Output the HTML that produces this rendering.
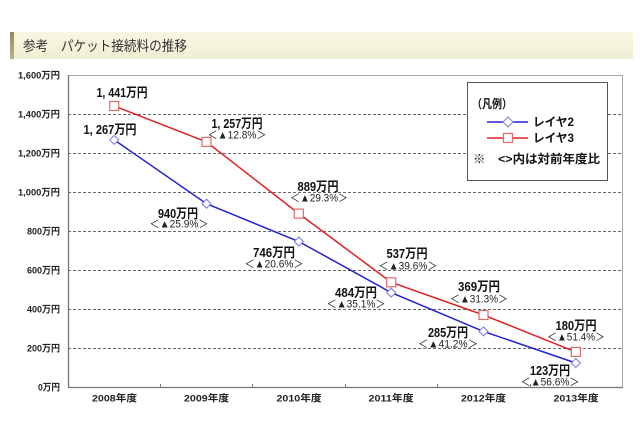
<!DOCTYPE html>
<html><head><meta charset="utf-8"><style>
html,body{margin:0;padding:0;background:#fff;}
svg{display:block;}
text{font-family:"Liberation Sans","Noto Sans CJK JP",sans-serif;}
</style></head><body>
<svg width="640" height="426" viewBox="0 0 640 426" xmlns="http://www.w3.org/2000/svg">
<defs>
<linearGradient id="tb" x1="0" y1="0" x2="0" y2="1">
<stop offset="0" stop-color="#f7f6e2"/><stop offset="0.6" stop-color="#f4f2da"/><stop offset="1" stop-color="#efedd3"/>
</linearGradient>
<linearGradient id="st" x1="0" y1="0" x2="0" y2="1">
<stop offset="0" stop-color="#8e8a5e"/><stop offset="1" stop-color="#b8b48e"/>
</linearGradient>
</defs>
<rect x="0" y="0" width="640" height="426" fill="#fff"/>
<!-- title bar -->
<rect x="10" y="32" width="623" height="27" fill="url(#tb)"/>
<rect x="10" y="32" width="4" height="27" fill="url(#st)"/>
<text x="23" y="51" font-size="14" fill="#333" textLength="164" lengthAdjust="spacingAndGlyphs">参考　パケット接続料の推移</text>

<!-- gridlines -->
<g stroke="#666" stroke-width="1" stroke-dasharray="3,2">
<line x1="68" y1="348.5" x2="622" y2="348.5"/>
<line x1="68" y1="309.5" x2="622" y2="309.5"/>
<line x1="68" y1="270.5" x2="622" y2="270.5"/>
<line x1="68" y1="231.5" x2="622" y2="231.5"/>
<line x1="68" y1="192.5" x2="622" y2="192.5"/>
<line x1="68" y1="153.5" x2="622" y2="153.5"/>
<line x1="68" y1="114.5" x2="622" y2="114.5"/>
</g>
<!-- plot border -->
<line x1="68" y1="75.5" x2="623" y2="75.5" stroke="#aaa"/>
<line x1="622.5" y1="75" x2="622.5" y2="387" stroke="#aaa"/>
<line x1="68.5" y1="75" x2="68.5" y2="388" stroke="#777" stroke-width="1.3"/>
<line x1="68" y1="387.5" x2="623" y2="387.5" stroke="#777" stroke-width="1.3"/>
<g stroke="#777">
<line x1="160.5" y1="384" x2="160.5" y2="387"/>
<line x1="252.5" y1="384" x2="252.5" y2="387"/>
<line x1="345.5" y1="384" x2="345.5" y2="387"/>
<line x1="437.5" y1="384" x2="437.5" y2="387"/>
<line x1="530.5" y1="384" x2="530.5" y2="387"/>
</g>

<!-- y labels -->
<g font-size="9.5" font-weight="bold" fill="#222" text-anchor="end">
<text x="60" y="78.5" textLength="42" lengthAdjust="spacingAndGlyphs">1,600万円</text>
<text x="60" y="117.5" textLength="42" lengthAdjust="spacingAndGlyphs">1,400万円</text>
<text x="60" y="156.5" textLength="42" lengthAdjust="spacingAndGlyphs">1,200万円</text>
<text x="60" y="195.5" textLength="42" lengthAdjust="spacingAndGlyphs">1,000万円</text>
<text x="60" y="234.5" textLength="33" lengthAdjust="spacingAndGlyphs">800万円</text>
<text x="60" y="273.5" textLength="33" lengthAdjust="spacingAndGlyphs">600万円</text>
<text x="60" y="312.5" textLength="33" lengthAdjust="spacingAndGlyphs">400万円</text>
<text x="60" y="351.5" textLength="33" lengthAdjust="spacingAndGlyphs">200万円</text>
<text x="60" y="390.5" textLength="22" lengthAdjust="spacingAndGlyphs">0万円</text>
</g>
<!-- x labels -->
<g font-size="9.5" font-weight="bold" fill="#222" text-anchor="middle">
<text x="114.5" y="401.5" textLength="45" lengthAdjust="spacingAndGlyphs">2008年度</text>
<text x="206.5" y="401.5" textLength="45" lengthAdjust="spacingAndGlyphs">2009年度</text>
<text x="299" y="401.5" textLength="45" lengthAdjust="spacingAndGlyphs">2010年度</text>
<text x="391" y="401.5" textLength="45" lengthAdjust="spacingAndGlyphs">2011年度</text>
<text x="483.5" y="401.5" textLength="45" lengthAdjust="spacingAndGlyphs">2012年度</text>
<text x="576" y="401.5" textLength="45" lengthAdjust="spacingAndGlyphs">2013年度</text>
</g>

<!-- series -->
<polyline fill="none" stroke="#2222cc" stroke-width="1.5" points="114.2,139.9 206.5,203.7 298.8,241.5 391.2,292.6 483.5,331.4 575.8,363"/>
<polyline fill="none" stroke="#e02222" stroke-width="1.5" points="114.2,106 206.5,141.9 298.8,213.6 391.2,282.3 483.5,315 575.8,351.9"/>
<g fill="#fff" stroke="#e06a6a" stroke-width="1.2">
<rect x="109.7" y="101.5" width="9" height="9"/>
<rect x="202" y="137.4" width="9" height="9"/>
<rect x="294.3" y="209.1" width="9" height="9"/>
<rect x="386.7" y="277.8" width="9" height="9"/>
<rect x="479" y="310.5" width="9" height="9"/>
<rect x="571.3" y="347.4" width="9" height="9"/>
</g>
<g fill="#fff" stroke="#8080e0" stroke-width="1.1">
<polygon points="114.2,135.4 118.7,139.9 114.2,144.4 109.7,139.9"/>
<polygon points="206.5,199.2 211,203.7 206.5,208.2 202,203.7"/>
<polygon points="298.8,237 303.3,241.5 298.8,246 294.3,241.5"/>
<polygon points="391.2,288.1 395.7,292.6 391.2,297.1 386.7,292.6"/>
<polygon points="483.5,326.9 488,331.4 483.5,335.9 479,331.4"/>
<polygon points="575.8,358.5 580.3,363 575.8,367.5 571.3,363"/>
</g>

<!-- data labels -->
<g font-size="13" font-weight="bold" fill="#111" text-anchor="middle">
<text x="122" y="97" textLength="51" lengthAdjust="spacingAndGlyphs">1, 441万円</text>
<text x="110" y="134" textLength="53" lengthAdjust="spacingAndGlyphs">1, 267万円</text>
<text x="178" y="218" textLength="40" lengthAdjust="spacingAndGlyphs">940万円</text>
<text x="237" y="128" textLength="51" lengthAdjust="spacingAndGlyphs">1, 257万円</text>
<text x="318" y="191" textLength="41" lengthAdjust="spacingAndGlyphs">889万円</text>
<text x="274" y="257" textLength="42" lengthAdjust="spacingAndGlyphs">746万円</text>
<text x="407" y="258" textLength="41" lengthAdjust="spacingAndGlyphs">537万円</text>
<text x="356" y="297" textLength="42" lengthAdjust="spacingAndGlyphs">484万円</text>
<text x="479" y="291" textLength="42" lengthAdjust="spacingAndGlyphs">369万円</text>
<text x="448" y="337" textLength="40" lengthAdjust="spacingAndGlyphs">285万円</text>
<text x="576" y="330" textLength="41" lengthAdjust="spacingAndGlyphs">180万円</text>
<text x="550" y="375" textLength="40" lengthAdjust="spacingAndGlyphs">123万円</text>
</g>
<g font-size="11" fill="#222" text-anchor="middle">
<text x="179" y="227.5" textLength="59" lengthAdjust="spacingAndGlyphs">＜▲25.9%＞</text>
<text x="237" y="138.5" textLength="59" lengthAdjust="spacingAndGlyphs">＜▲12.8%＞</text>
<text x="319" y="201.5" textLength="58" lengthAdjust="spacingAndGlyphs">＜▲29.3%＞</text>
<text x="274" y="267.5" textLength="59" lengthAdjust="spacingAndGlyphs">＜▲20.6%＞</text>
<text x="408" y="269.5" textLength="59" lengthAdjust="spacingAndGlyphs">＜▲39.6%＞</text>
<text x="356" y="307.5" textLength="59" lengthAdjust="spacingAndGlyphs">＜▲35.1%＞</text>
<text x="479" y="302.5" textLength="58" lengthAdjust="spacingAndGlyphs">＜▲31.3%＞</text>
<text x="448" y="347.5" textLength="60" lengthAdjust="spacingAndGlyphs">＜▲41.2%＞</text>
<text x="576" y="340.5" textLength="58" lengthAdjust="spacingAndGlyphs">＜▲51.4%＞</text>
<text x="550" y="385.5" textLength="59" lengthAdjust="spacingAndGlyphs">＜▲56.6%＞</text>
</g>

<!-- legend -->
<rect x="467.5" y="82.5" width="140" height="98" fill="#fff" stroke="#555" stroke-width="1"/>
<text x="472" y="108" font-size="12" font-weight="bold" fill="#111" textLength="40" lengthAdjust="spacingAndGlyphs">（凡例）</text>
<line x1="487" y1="122" x2="528" y2="122" stroke="#2222cc" stroke-width="1.5"/>
<polygon points="508,117 513,122 508,127 503,122" fill="#fff" stroke="#8080e0" stroke-width="1.1"/>
<text x="533" y="126" font-size="12" font-weight="bold" fill="#111" textLength="41" lengthAdjust="spacingAndGlyphs">レイヤ2</text>
<line x1="487" y1="138" x2="528" y2="138" stroke="#e02222" stroke-width="1.5"/>
<rect x="503.5" y="133.5" width="9" height="9" fill="#fff" stroke="#e06a6a" stroke-width="1.2"/>
<text x="533" y="142" font-size="12" font-weight="bold" fill="#111" textLength="41" lengthAdjust="spacingAndGlyphs">レイヤ3</text>
<text x="473" y="163" font-size="12" font-weight="bold" fill="#111" textLength="127" lengthAdjust="spacingAndGlyphs">※　&lt;&gt;内は対前年度比</text>
</svg>
</body></html>
